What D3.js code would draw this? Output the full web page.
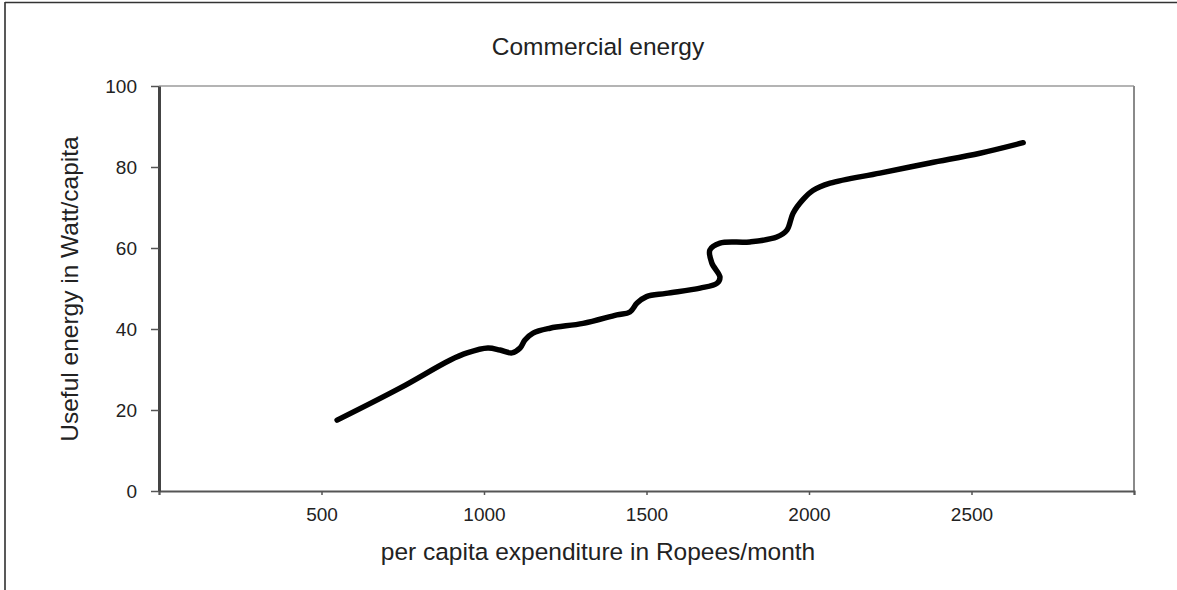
<!DOCTYPE html>
<html>
<head>
<meta charset="utf-8">
<script src="https://cdn.jsdelivr.net/npm/d3@7"></script>
<style>
  body { margin: 0; background: #fff; }
  svg { display: block; font-family: "Liberation Sans", Arial, sans-serif; }
</style>
</head>
<body>
<svg id="chart" width="1177" height="590"></svg>
<script>
// per capita expenditure (Rupees/month) along the curve, in drawing order
const expenditure = [548, 741, 895, 948, 1012, 1049, 1086, 1111, 1126, 1151, 1203, 1305, 1409, 1449, 1471, 1500, 1560,
  1665, 1717, 1726, 1701, 1695, 1726, 1818, 1901, 1932, 1951, 1982, 2012, 2065, 2218, 2372, 2526, 2659];
// useful energy (Watt/capita)
const energy = [17.5, 25.4, 32.3, 34.1, 35.3, 34.8, 34.1, 35.3, 37.3, 39.0, 40.2, 41.4, 43.5, 44.2, 46.4, 48.0, 48.8,
  50.1, 51.3, 52.8, 56.3, 59.5, 61.2, 61.5, 62.7, 64.4, 68.6, 72.0, 74.2, 76.0, 78.5, 81.0, 83.4, 86.0];
const xTicks = [0, 500, 1000, 1500, 2000, 2500, 3000];
const yTicks = [0, 20, 40, 60, 80, 100];

const svg = d3.select('#chart');
const margin = { left: 159, top: 86, right: 1177 - 1134, bottom: 590 - 491 };
const width = 1177 - margin.left - margin.right;
const height = 590 - margin.top - margin.bottom;

// outer frame of the figure
svg.append('line').attr('x1', 5).attr('x2', 5).attr('y1', 2).attr('y2', 590)
  .attr('stroke', '#222').attr('stroke-width', 1.5);
svg.append('line').attr('x1', 5).attr('x2', 1177).attr('y1', 2.5).attr('y2', 2.5)
  .attr('stroke', '#333').attr('stroke-width', 1.5);

const g = svg.append('g').attr('transform', `translate(${margin.left},${margin.top})`);

const x = d3.scaleLinear().domain([0, 3000]).range([0, width]);
const y = d3.scaleLinear().domain([0, 100]).range([height, 0]);

// plot frame: light top, grey right
g.append('line').attr('x1', 0).attr('x2', width).attr('y1', 0).attr('y2', 0)
  .attr('stroke', '#b4b4b4').attr('stroke-width', 2);
g.append('line').attr('x1', width).attr('x2', width).attr('y1', 0).attr('y2', height)
  .attr('stroke', '#8a8a8a').attr('stroke-width', 2);

// x axis
const xAxis = g.append('g')
  .attr('transform', `translate(0,${height})`)
  .call(d3.axisBottom(x).tickValues(xTicks).tickSize(4).tickFormat(d => (d === 0 || d === 3000) ? '' : d));
xAxis.select('.domain').attr('stroke', '#555').attr('stroke-width', 2);
xAxis.selectAll('.tick line').attr('stroke', '#555').attr('stroke-width', 1.5);
xAxis.selectAll('text').attr('fill', '#222').style('font-size', '19px').attr('y', 17).attr('dy', '0.71em');

// y axis
const yAxis = g.append('g')
  .call(d3.axisLeft(y).tickValues(yTicks).tickSize(8).tickSizeOuter(0));
yAxis.select('.domain').attr('stroke', '#444').attr('stroke-width', 3);
yAxis.selectAll('.tick line').attr('stroke', '#555').attr('stroke-width', 1.5);
yAxis.selectAll('text').attr('fill', '#222').style('font-size', '19px').attr('x', -22);

// the curve
const line = d3.line()
  .x(d => x(d[0]))
  .y(d => y(d[1]))
  .curve(d3.curveCatmullRom.alpha(0.5));

g.append('path')
  .datum(d3.zip(expenditure, energy))
  .attr('fill', 'none')
  .attr('stroke', '#000')
  .attr('stroke-width', 5.5)
  .attr('stroke-linecap', 'round')
  .attr('stroke-linejoin', 'round')
  .attr('d', line);

// titles
svg.append('text')
  .attr('x', 598).attr('y', 55)
  .attr('text-anchor', 'middle')
  .attr('fill', '#222')
  .style('font-size', '24.5px')
  .text('Commercial energy');

svg.append('text')
  .attr('x', 598).attr('y', 560)
  .attr('text-anchor', 'middle')
  .attr('fill', '#222')
  .style('font-size', '24.5px')
  .text('per capita expenditure in Ropees/month');

svg.append('text')
  .attr('transform', 'translate(78,289) rotate(-90)')
  .attr('text-anchor', 'middle')
  .attr('fill', '#222')
  .style('font-size', '24.5px')
  .text('Useful energy in Watt/capita');
</script>
</body>
</html>
